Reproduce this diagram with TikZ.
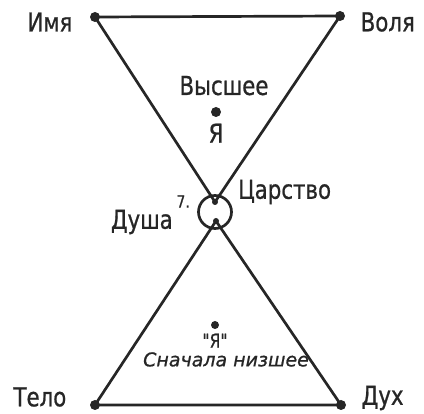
\documentclass[tikz,border=0pt]{standalone}
\usepackage{fontspec}
\setmainfont{DejaVu Sans}[FakeBold=0.8]
\newfontfamily\hand{DejaVu Sans}[FakeStretch=0.82,FakeBold=0.8]
\usetikzlibrary{positioning}
\begin{document}
\begin{tikzpicture}[x=1pt,y=-1pt,line width=2.7pt,line join=round,color=black!85]
	\tikzstyle{dot}=[circle,fill,inner sep=0pt,minimum size=10pt]
	\tikzstyle{sdot}=[circle,fill,inner sep=0pt,minimum size=6pt]
	\tikzstyle{lbl}=[font=\hand\fontsize{26}{28}\selectfont,inner sep=1pt]
	\tikzstyle{slbl}=[font=\fontsize{18}{20}\selectfont,inner sep=1pt]
	\useasboundingbox (0,0) rectangle (424,414);
	% corners
	\node[dot] (nw) at (95,17) {};
	\node[dot] (ne) at (340,16) {};
	\node[dot] (sw) at (95,405) {};
	\node[dot] (se) at (341,405) {};
	% apexes
	\node[sdot] (ta) at (215,202) {};
	\node[sdot] (ba) at (216,221) {};
	\draw (nw.center)--(ne.center)--(ta.center)--(nw.center);
	\draw (sw.center)--(se.center)--(ba.center)--(sw.center);
	\node[draw,circle,minimum size=33pt,inner sep=0pt] (c) at (215,212) {};
	% labels
	\node[lbl,left=14pt of nw,yshift=-5pt] (imya) {Имя};
	\node[lbl,right=12pt of ne,yshift=-6pt] (volya) {Воля};
	\node[lbl,left=20pt of sw,yshift=8pt] (telo) {Тело};
	\node[lbl,right=12pt of se,yshift=7pt] (dukh) {Дух};
	\node[lbl,right=3pt of c,yshift=20pt] (tsar) {Царство};
	\node[lbl,left=22pt of c,yshift=-10pt] (dusha) {Душа};
	\node[font=\hand\fontsize{17}{19}\selectfont,inner sep=0pt,right=0pt of dusha.north east,yshift=6pt] (seven) {7.};
	% upper self
	\node[dot] (hi) at (216,112) {};
	\node[lbl,above=8pt of hi,xshift=8pt] (hitxt) {Высшее};
	\node[lbl,below=3pt of hi] (hiya) {Я};
	% lower self
	\node[dot,minimum size=8pt] (lo) at (215,325) {};
	\node[slbl,font=\hand\fontsize{19}{21}\selectfont,below=1pt of lo] (loya) {"Я"};
	\node[slbl,font=\fontsize{19}{21}\selectfont\itshape,below=0pt of loya,xshift=11pt] (lotxt) {Сначала низшее};
\end{tikzpicture}
\end{document}
